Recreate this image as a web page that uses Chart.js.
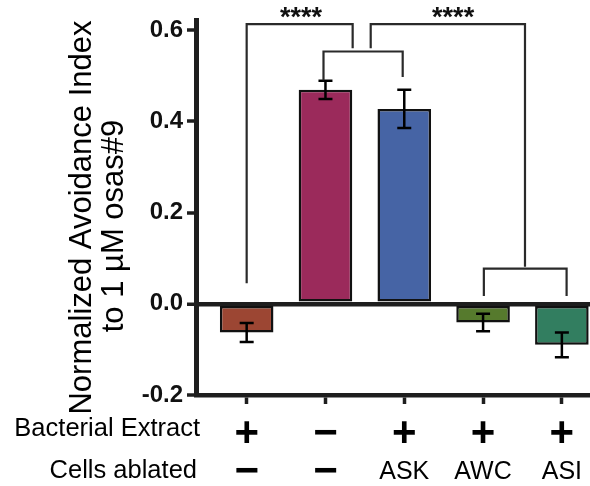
<!DOCTYPE html>
<html><head><meta charset="utf-8">
<script src="https://cdn.jsdelivr.net/npm/chart.js@4/dist/chart.umd.min.js"></script>
<style>html,body{margin:0;padding:0;background:#fff;overflow:hidden}#wrap{width:590px;height:486px;position:relative}canvas{display:block}</style>
</head><body><div id="wrap"><canvas id="c" width="590" height="486"></canvas></div>
<script>
// ---- data ----
const groupIndex = [1, 2, 3, 4, 5];
const bacterialExtract = ['+', '−', '+', '+', '+'];
const cellsAblated = ['−', '−', 'ASK', 'AWC', 'ASI'];
const avoidanceMean = [-0.063, 0.469, 0.427, -0.041, -0.090];
const avoidanceSem = [0.021, 0.020, 0.042, 0.019, 0.027];
const yTickValues = [-0.2, 0.0, 0.2, 0.4, 0.6];
const rowLabels = ['Bacterial Extract', 'Cells ablated'];
const yTitleLines = ['Normalized Avoidance Index', 'to 1 µM osas#9'];
// significance brackets, in data units: x from/to, top level, leg ends
const bracketX1 = [1.0, 2.574, 1.975, 4.01];
const bracketX2 = [2.345, 4.532, 2.98, 5.06];
const bracketTop = [0.613, 0.613, 0.553, 0.077];
const bracketEnd1 = [0.045, 0.560, 0.490, 0.017];
const bracketEnd2 = [0.560, 0.081, 0.497, 0.017];
const starText = ['****', '****'];
const starX = [1.69, 3.62];
const starY = [0.639, 0.639];

// ---- styles ----
const barColors = ['#9c4633', '#9b2a5b', '#4664a5', '#567a2d', '#327e60'];
const FONT = "'Liberation Sans', Arial, sans-serif";
const AXIS = '#1e1e1e';

const annot = {
  id: 'annot',
  afterDatasetsDraw(chart) {
    const {ctx, scales: {x, y}} = chart;
    ctx.save();
    ctx.strokeStyle = '#000';
    ctx.lineWidth = 2.5;
    groupIndex.forEach((g, i) => {
      const px = x.getPixelForValue(g);
      const hi = y.getPixelForValue(avoidanceMean[i] + avoidanceSem[i]);
      const lo = y.getPixelForValue(avoidanceMean[i] - avoidanceSem[i]);
      ctx.beginPath();
      ctx.moveTo(px, hi); ctx.lineTo(px, lo);
      ctx.moveTo(px - 7, hi); ctx.lineTo(px + 7, hi);
      ctx.moveTo(px - 7, lo); ctx.lineTo(px + 7, lo);
      ctx.stroke();
    });
    ctx.strokeStyle = '#2a2a2a';
    ctx.lineWidth = 2.2;
    ctx.lineJoin = 'miter';
    bracketX1.forEach((bx, i) => {
      const x1 = x.getPixelForValue(bx), x2 = x.getPixelForValue(bracketX2[i]);
      const t = y.getPixelForValue(bracketTop[i]);
      ctx.beginPath();
      ctx.moveTo(x1, y.getPixelForValue(bracketEnd1[i]));
      ctx.lineTo(x1, t);
      ctx.lineTo(x2, t);
      ctx.lineTo(x2, y.getPixelForValue(bracketEnd2[i]));
      ctx.stroke();
    });
    ctx.font = 'bold 27px ' + FONT;
    ctx.fillStyle = '#111';
    ctx.textAlign = 'center';
    ctx.textBaseline = 'alphabetic';
    starText.forEach((s, i) => {
      const m = ctx.measureText(s);
      const off = (m.actualBoundingBoxAscent - m.actualBoundingBoxDescent) / 2;
      ctx.fillText(s, x.getPixelForValue(starX[i]), y.getPixelForValue(starY[i]) + off);
    });
    ctx.restore();
  },
  afterDraw(chart) {
    const {ctx, chartArea} = chart;
    ctx.save();
    ctx.fillStyle = '#000';
    ctx.font = '25.5px ' + FONT;
    ctx.textAlign = 'right';
    ctx.textBaseline = 'middle';
    ctx.fillText(rowLabels[0], chartArea.left + 4, chartArea.bottom + 34);
    ctx.fillText(rowLabels[1], chartArea.left + 1, chartArea.bottom + 76);
    ctx.font = '31px ' + FONT;
    ctx.textAlign = 'center';
    const tx = [82.6, 114.6], ty = [217.5, 226];
    yTitleLines.forEach((t, i) => {
      ctx.save();
      ctx.translate(tx[i], ty[i]);
      ctx.rotate(-Math.PI / 2);
      ctx.fillText(t, 0, 0);
      ctx.restore();
    });
    ctx.restore();
  }
};

const setTicks = vals => s => { s.ticks = vals.map(v => ({value: v})); };

new Chart(document.getElementById('c'), {
  type: 'bar',
  data: {
    datasets: [{
      data: groupIndex.map((g, i) => ({x: g, y: avoidanceMean[i]})),
      backgroundColor: barColors,
      borderColor: '#111',
      borderWidth: 2.5,
      borderSkipped: false,
      barPercentage: 0.68,
      categoryPercentage: 1
    }]
  },
  options: {
    responsive: false,
    animation: false,
    devicePixelRatio: 1,
    layout: {padding: {top: 20, left: 0, right: 0, bottom: 0}},
    plugins: {legend: {display: false}, tooltip: {enabled: false}},
    scales: {
      x: {
        type: 'linear', position: 'bottom', weight: 0, offset: false,
        min: 0.357, max: 5.357,
        afterBuildTicks: setTicks(groupIndex),
        afterFit: s => { s.height = 58; },
        grid: {offset: false, drawOnChartArea: false, drawTicks: true, tickLength: 9, tickWidth: 3.5, tickColor: AXIS},
        border: {display: true, width: 4.5, color: AXIS},
        ticks: {
          callback: v => bacterialExtract[Math.round(v) - 1] ?? '',
          font: {family: FONT, size: 42, weight: 'bold', lineHeight: '40px'},
          color: '#000', padding: 10, maxRotation: 0, autoSkip: false
        }
      },
      x2: {
        type: 'linear', position: 'bottom', weight: 1, offset: false,
        min: 0.357, max: 5.357,
        afterBuildTicks: setTicks(groupIndex),
        afterFit: s => { s.height = 33; },
        grid: {display: false, drawTicks: false, tickLength: 0, offset: false},
        border: {display: false},
        ticks: {
          callback: v => cellsAblated[Math.round(v) - 1] ?? '',
          font: c => (cellsAblated[c.index] === '−')
            ? {family: FONT, size: 42, weight: 'bold', lineHeight: '30px'}
            : {family: FONT, size: 25, weight: 'normal', lineHeight: '30px'},
          color: '#000', padding: 4, maxRotation: 0, autoSkip: false
        }
      },
      y: {
        min: -0.2, max: 0.622,
        afterBuildTicks: setTicks(yTickValues),
        afterFit: s => { s.width = 196; },
        grid: {
          color: c => (c.tick && Math.abs(c.tick.value) < 1e-9) ? AXIS : 'rgba(0,0,0,0)',
          lineWidth: c => (c.tick && Math.abs(c.tick.value) < 1e-9) ? 4.5 : 0,
          drawTicks: true, tickLength: 9, tickWidth: 3.5, tickColor: AXIS
        },
        border: {display: true, width: 5, color: AXIS},
        ticks: {
          callback: v => v.toFixed(1),
          font: {family: FONT, size: 24, weight: 'bold'},
          color: '#111', padding: 4
        }
      }
    }
  },
  plugins: [annot]
});
</script>
</body></html>
